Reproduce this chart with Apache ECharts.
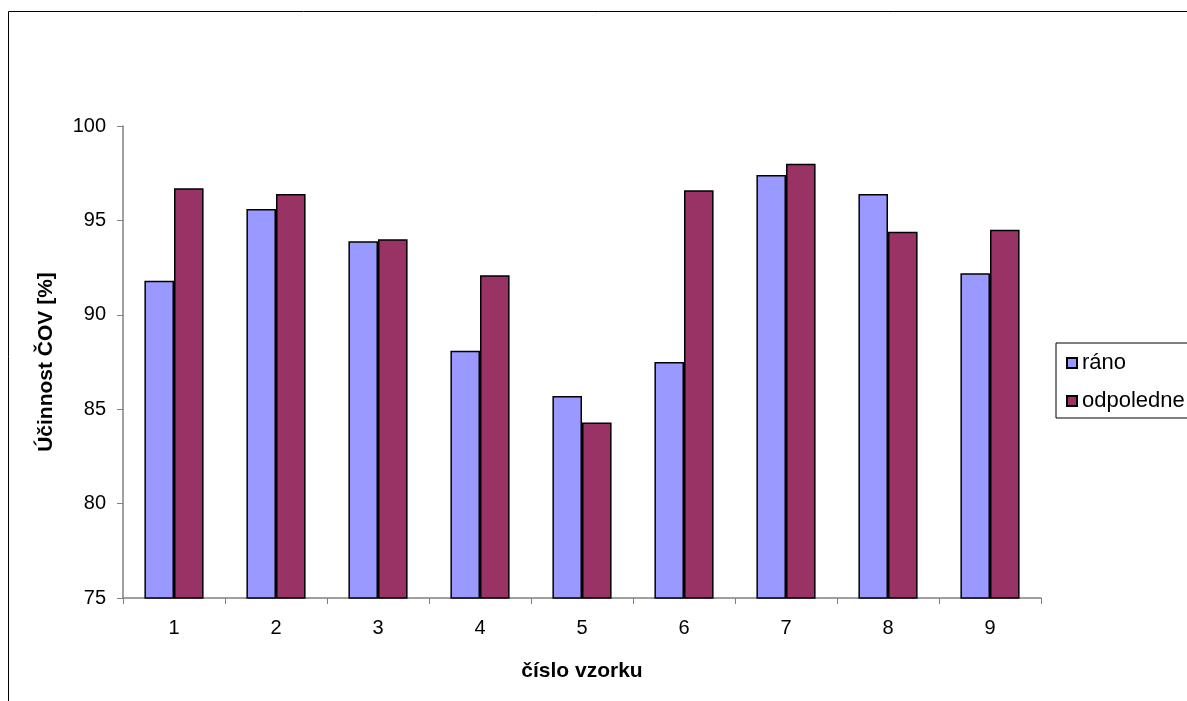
<!DOCTYPE html>
<html>
<head>
<meta charset="utf-8">
<script src="https://cdn.jsdelivr.net/npm/echarts@6/dist/echarts.min.js"></script>
<style>
html,body{margin:0;padding:0;background:#fff;}
#chart{width:1187px;height:701px;}
</style>
</head>
<body>
<div id="chart"></div>
<script>
var categories = ['1','2','3','4','5','6','7','8','9'];
var seriesNames = ['ráno','odpoledne'];
var rano = [91.8, 95.6, 93.9, 88.1, 85.7, 87.5, 97.4, 96.4, 92.2];
var odpoledne = [96.7, 96.4, 94.0, 92.1, 84.3, 96.6, 98.0, 94.4, 94.5];
var yTicks = {min: 75, max: 100, interval: 5};
var xTitle = 'číslo vzorku';
var yTitle = 'Účinnost ČOV [%]';

var FONT = '"Liberation Sans", Arial, sans-serif';
var chart = echarts.init(document.getElementById('chart'), null, {renderer: 'canvas'});
chart.setOption({
  animation: false,
  backgroundColor: '#fff',
  textStyle: {fontFamily: FONT, color: '#000'},
  graphic: [{
    type: 'rect',
    shape: {x: 8.5, y: 11.5, width: 1300, height: 800},
    style: {fill: 'none', stroke: '#000', lineWidth: 1},
    silent: true
  }],
  grid: {left: 123, right: 146, top: 126, bottom: 103, containLabel: false},
  legend: {
    orient: 'vertical',
    left: 1056,
    top: 343,
    padding: [9, 12, 6, 10],
    itemWidth: 10,
    itemHeight: 10,
    itemGap: 16,
    icon: 'rect',
    borderColor: '#000',
    borderWidth: 1,
    textStyle: {fontFamily: FONT, fontSize: 22, color: '#000'},
    data: seriesNames
  },
  xAxis: {
    type: 'category',
    data: categories,
    boundaryGap: true,
    name: xTitle,
    nameLocation: 'middle',
    nameGap: 63,
    nameTextStyle: {fontFamily: FONT, fontSize: 21, fontWeight: 'bold', color: '#000'},
    axisLine: {lineStyle: {color: '#808080', width: 1.5}},
    axisTick: {show: true, interval: 0, length: 6, lineStyle: {color: '#808080'}},
    axisLabel: {fontFamily: FONT, fontSize: 20, color: '#000', margin: 20, interval: 0},
    splitLine: {show: false}
  },
  yAxis: {
    type: 'value',
    min: yTicks.min,
    max: yTicks.max,
    interval: yTicks.interval,
    name: yTitle,
    nameLocation: 'middle',
    nameRotate: 90,
    nameGap: 66,
    nameTextStyle: {fontFamily: FONT, fontSize: 21, fontWeight: 'bold', color: '#000'},
    axisLine: {show: true, lineStyle: {color: '#808080', width: 1.5}},
    axisTick: {show: true, length: 6, lineStyle: {color: '#808080'}},
    axisLabel: {fontFamily: FONT, fontSize: 20, color: '#000', margin: 17},
    splitLine: {show: false}
  },
  series: [{
    name: seriesNames[0],
    type: 'bar',
    data: rano,
    barGap: '0%',
    barCategoryGap: '42%',
    itemStyle: {color: '#9999FF', borderColor: '#000', borderWidth: 1.5}
  }, {
    name: seriesNames[1],
    type: 'bar',
    data: odpoledne,
    barGap: '0%',
    barCategoryGap: '42%',
    itemStyle: {color: '#993366', borderColor: '#000', borderWidth: 1.5}
  }]
});
</script>
</body>
</html>
